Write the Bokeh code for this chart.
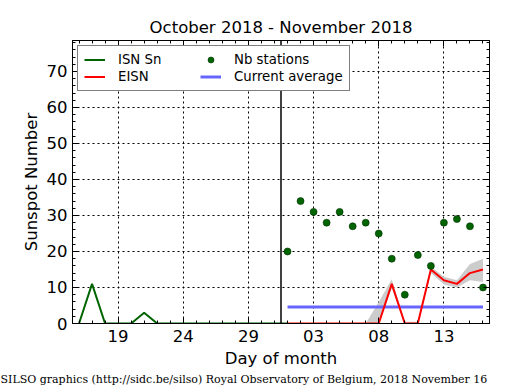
import pandas as pd
from bokeh.plotting import figure
from bokeh.models import (Range1d, LinearAxis, DatetimeAxis, FixedTicker, Span, Title,
                          Legend, DatetimeTickFormatter, ColumnDataSource, CustomJSTickFormatter)
from bokeh.embed import file_html
from bokeh.resources import INLINE

# ---------------- data ----------------
title_text = "October 2018 - November 2018"
footer_text = "SILSO graphics (http://sidc.be/silso) Royal Observatory of Belgium, 2018 November 16"

isn_dates = pd.date_range("2018-10-16", "2018-11-01")
isn_values = [0, 11, 0, 0, 0, 3, 0, 0, 0, 0, 0, 0, 0, 0, 0, 0, 0]

nov_dates = pd.date_range("2018-11-01", "2018-11-16")
eisn_values = [0, 0, 0, 0, 0, 0, 0, 0, 11, 0, 0, 15, 12, 11, 14, 15]
eisn_low = [0, 0, 0, 0, 0, 0, 0, 0, 9.7, 0, 0, 14, 10.8, 10, 12, 11.5]
eisn_high = [0, 0, 0, 0, 0, 0, 0, 6, 12.3, 0.5, 0.5, 15.8, 13, 12, 16.5, 18]
nb_stations = [20, 34, 31, 28, 31, 27, 28, 25, 18, 8, 19, 16, 28, 29, 27, 10]

avg_dates = [pd.Timestamp("2018-11-01"), pd.Timestamp("2018-11-16")]
avg_values = [4.6, 4.6]

split_date = pd.Timestamp("2018-10-31 12:00")
x_start = pd.Timestamp("2018-10-15 12:00")
x_end = pd.Timestamp("2018-11-16 12:00")
y_max = 78.6

x_tick_dates = pd.date_range("2018-10-19", "2018-11-13", freq="5D")
x_minor_dates = pd.date_range("2018-10-15", "2018-11-17", freq="1D")
y_ticks = list(range(0, 71, 10))
y_minor = list(range(0, 79, 2))

def ms(ts):
    return ts.timestamp() * 1000.0

# ---------------- figure ----------------
FONT = "DejaVu Sans"
p = figure(width=515, height=390, x_axis_type="datetime", output_backend="svg",
           toolbar_location=None,
           x_range=Range1d(ms(x_start), ms(x_end)), y_range=Range1d(0, y_max),
           min_border_left=72, min_border_right=26, min_border_top=40, min_border_bottom=67)
p.background_fill_color = "white"
p.border_fill_color = "white"
p.outline_line_color = "black"
p.outline_line_width = 1

p.title.text = title_text
p.title.text_font = FONT
p.title.text_font_size = "16.5px"
p.title.text_font_style = "normal"
p.title.align = "center"
p.title.text_color = "black"
p.title.standoff = 8

xt = FixedTicker(ticks=[ms(t) for t in x_tick_dates], minor_ticks=[ms(t) for t in x_minor_dates])
yt = FixedTicker(ticks=y_ticks, minor_ticks=y_minor)
fmt = DatetimeTickFormatter(days="%d", months="%d", hours="%d", years="%d")
blank = CustomJSTickFormatter(code="return ''")

def style_axis(ax):
    ax.axis_line_color = "black"
    ax.major_tick_in = 6
    ax.major_tick_out = 0
    ax.minor_tick_in = 3
    ax.minor_tick_out = 0
    ax.major_tick_line_color = "black"
    ax.minor_tick_line_color = "black"
    ax.major_label_text_font = FONT
    ax.major_label_text_font_size = "16.5px"
    ax.major_label_text_color = "black"
    ax.axis_label_text_font = FONT
    ax.axis_label_text_font_size = "16.5px"
    ax.axis_label_text_font_style = "normal"
    ax.axis_label_text_color = "black"

xa = p.xaxis[0]
xa.ticker = xt
xa.formatter = fmt
xa.axis_label = "Day of month"
style_axis(xa)
xa.major_label_standoff = 6
xa.axis_label_standoff = 4

ya = p.yaxis[0]
ya.ticker = yt
ya.axis_label = "Sunspot Number"
style_axis(ya)
ya.major_label_standoff = 5
ya.axis_label_standoff = 3

top = DatetimeAxis(ticker=xt, formatter=blank)
style_axis(top)
top.major_label_standoff = 0
p.add_layout(top, "above")
right = LinearAxis(ticker=yt, formatter=blank)
style_axis(right)
right.major_label_standoff = 0
p.add_layout(right, "right")

for g, t in ((p.xgrid[0], xt), (p.ygrid[0], yt)):
    g.ticker = t
    g.grid_line_color = "black"
    g.grid_line_dash = "2 3"
    g.grid_line_width = 1
    g.grid_line_alpha = 1.0

# ---------------- glyphs ----------------
nov = ColumnDataSource(dict(x=nov_dates, eisn=eisn_values, lo=eisn_low, hi=eisn_high, nb=nb_stations))

p.varea(x="x", y1="lo", y2="hi", source=nov, fill_color="#cccccc", fill_alpha=1.0)
r_isn = p.line(isn_dates, isn_values, line_color="#006400", line_width=2)
r_avg = p.line(avg_dates, avg_values, line_color="#6666ff", line_width=3)
r_eisn = p.line(x="x", y="eisn", source=nov, line_color="red", line_width=2)
r_nb = p.scatter(x="x", y="nb", source=nov, size=7, fill_color="#006400", line_color="#003000",
                 line_width=0.6)

p.add_layout(Span(location=ms(split_date), dimension="height", line_color="black", line_width=1.5))

legend = Legend(items=[("ISN Sn", [r_isn]), ("EISN", [r_eisn]),
                       ("Nb stations", [r_nb]), ("Current average", [r_avg])],
                location="top_left", ncols=2)
legend.label_text_font = FONT
legend.label_text_font_size = "13.3px"
legend.label_text_color = "black"
legend.border_line_color = "black"
legend.border_line_width = 1
legend.background_fill_alpha = 1.0
legend.glyph_width = 21
legend.glyph_height = 15
legend.label_height = 15
legend.label_width = 80
legend.spacing = 2
legend.padding = 6
legend.margin = 5
legend.label_standoff = 13
p.add_layout(legend)

footer = Title(text=footer_text, text_font="DejaVu Serif", text_font_size="11px",
               text_font_style="normal", align="left", offset=-72, text_color="black",
               standoff=0)
p.add_layout(footer, "below")

open("out.html", "w").write(file_html(p, INLINE))
